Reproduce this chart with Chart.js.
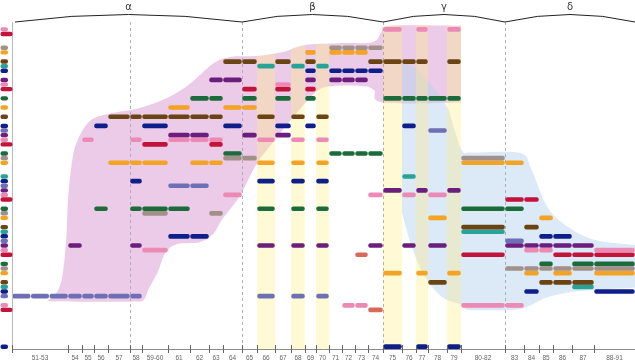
<!DOCTYPE html>
<html>
<head>
<meta charset="utf-8">
<script src="https://cdn.jsdelivr.net/npm/chart.js@4.4.1/dist/chart.umd.min.js"></script>
<style>
  html, body { margin: 0; padding: 0; background: #fff; }
</style>
</head>
<body>
<canvas id="storyChart" width="635" height="364"></canvas>
<script>
// Kolom waktu (tahun) dan lebar relatifnya
const columns = ['51','52','53','54','55','56','57','58','59-60','61','62','63','64','65','66','67','68','69','70','71','72','73','74','75','76','77','78','79','80-82','83','84','85','86','87','88-91'];
const colWidths = [18.7,18.6,18.7,14,12,14,22,12,26,22,19,14,19,15,18,16,14,11,13,13,13,13,15,19,14,12,19,14,44,19,15,14,19,22,41];

// Label sumbu bawah
const tickLabels = ['51-53','54','55','56','57','58','59-60','61','62','63','64','65','66','67','68','69','70','71','72','73','74','75','76','77','78','79','80-82','83','84','85','86','87','88-91'];
const tickSpans = [3,1,1,1,1,1,1,1,1,1,1,1,1,1,1,1,1,1,1,1,1,1,1,1,1,1,1,1,1,1,1,1,1];

// Kelompok di atas
const groupNames = ['α','β','γ','δ'];
const groupFirstCol = ['51','65','75','83'];
const dashedCols = ['58','65','75','83'];
const bandCols = ['66','68','70','75','77','79'];

// Baris dan kolom yang muncul ('*' = warna aksen)
const rowIds = [0,1,4,5,7,8,9,11,12,13,15,17,19,21,22,23,24,25,27,28,29,32,33,34,35,36,37,39,40,41,43,44,45,46,47,48,49,51,52,53,55,56,57,58,60,61,69];
const rowCols = [
  '75 77 79',
  '',
  '71 72 73 74',
  '69 71 72 73',
  '64 65 67 69 74 75 76 77 79',
  '66 68 70',
  '69 71 72 73 74',
  '63 64 69 71 72 73',
  '67',
  '65 67 69',
  '62 63 65 67 69 75 76 77 78 79',
  '61 64 65',
  '57 58 59-60 61 62 63 66 68 70',
  '56 59-60 64 67 69 76',
  '78',
  '61 62 65 67',
  '55 58 61 62 63 66 68 70',
  '59-60 63',
  '64 71 72 73 74',
  '64 65 80-82',
  '57 58 59-60 62 63 66 68 70 80-82 83',
  '76',
  '58 66 68 70',
  '61 62',
  '75 77 79',
  '64 74 76 78',
  '83 84',
  '56 58 59-60 61 66 68 70 80-82 83',
  '59-60 63',
  '78 85',
  '80-82 84',
  '80-82',
  '61 62 85 86',
  '83',
  '54 58 66 68 70 74 76 78 83 84 85 86 87',
  '59-60 84 85 88-91',
  '73* 80-82 86 87 88-91',
  '85 87 88-91',
  '83 84 85 86 87 88-91',
  '75 77 79 84 86 88-91',
  '78 85 86 87',
  '87',
  '84 88-91',
  '51 52 53 54 55 56 57 58 66 68 70',
  '72 73 80-82 83',
  '74*',
  '75 77 79'
];

// Area kelompok [tahun, baris]
const alphaTop = [[52.9,59.1],[53.4,57.2],[53.7,53.5],[53.9,46],[54.0,37],[54.3,28.5],[54.7,24],[55.7,19.8],[57.1,18.3],[58.8,17.1],[61.0,14.8],[62.0,11.8],[63.3,7.4],[64.4,6.0],[65.9,5.8],[67.5,4.9],[69.0,3.4],[71.8,3.0],[74.3,2.8],[74.9,0.6],[75.4,-0.8],[80,-0.8]];
const alphaBottom = [[52.9,59.1],[55,59.2],[58,59.2],[59.1,58.9],[59.5,56.5],[60.2,52.8],[60.8,48.6],[61.4,46.7],[62.5,46.3],[63.3,44.5],[63.9,41.5],[64.85,36.5],[65.4,32.8],[66.05,28.8],[67.0,24],[68.6,17.5],[70.0,13.6],[71.0,12.4],[73.5,12.3],[74.4,13.2],[75.0,15.9],[80,15.9]];
const deltaTop = [[76.0,7.3],[77.0,8.4],[77.8,10.5],[78.6,14.3],[79.1,17.5],[79.6,22.5],[80.1,26.5],[80.8,26.8],[83.8,26.9],[84.5,30.5],[85.6,38.6],[86.8,43.0],[88.1,45.8],[92,46.9]];
const deltaBottom = [[76.0,39.9],[76.7,47.3],[77.75,53.8],[78.74,58.2],[80.07,59.9],[80.6,61.0],[83.6,60.9],[84.5,59.9],[85.64,58.2],[87.36,56.9],[92,56.2]];

const rowPalette = ['#ec8ab5','#c4133a',null,'#1b6b3b','#a29188','#f4a322',null,'#6b4414','#27a398','#0e1f8b','#6d70b5','#6b1e7d'];
const accentRed = '#d96a58';

const colBounds = [];
let acc = 0;
colWidths.forEach(w => { colBounds.push(acc); acc += w; });
colBounds.push(acc);

function colRange(label) {
    const p = label.split('-').map(Number);
    return [p[0], p[p.length - 1] + 1];
}
function yearToUnit(yr) {
    for (let i = 0; i < columns.length; i++) {
        const [a, b] = colRange(columns[i]);
        if (yr <= b || i === columns.length - 1) return colBounds[i] + (yr - a) / (b - a) * colWidths[i];
    }
}

// Dataset per warna
const pillSets = {};
rowIds.forEach((r, i) => {
    rowCols[i].split(' ').filter(Boolean).forEach(tok => {
        const accent = tok.endsWith('*');
        const k = columns.indexOf(tok.replace('*', ''));
        const color = accent ? accentRed : rowPalette[r % 12];
        (pillSets[color] = pillSets[color] || []).push({ x: [colBounds[k] + 0.6, colBounds[k + 1] - 0.6], y: r });
    });
});
const datasets = Object.keys(pillSets).map(color => ({
    data: pillSets[color],
    backgroundColor: color,
    borderRadius: 2,
    borderSkipped: false,
    barThickness: 4,
    grouped: false
}));

function curve(ctx, pts, first) {
    if (first) ctx.moveTo(pts[0][0], pts[0][1]); else ctx.lineTo(pts[0][0], pts[0][1]);
    for (let i = 0; i < pts.length - 1; i++) {
        const p0 = pts[i - 1] || pts[i], p1 = pts[i], p2 = pts[i + 1], p3 = pts[i + 2] || p2;
        const t = 1 / 6;
        ctx.bezierCurveTo(p1[0] + (p2[0] - p0[0]) * t, p1[1] + (p2[1] - p0[1]) * t,
                          p2[0] - (p3[0] - p1[0]) * t, p2[1] - (p3[1] - p1[1]) * t, p2[0], p2[1]);
    }
}

const backdrop = {
    id: 'backdrop',
    beforeDatasetsDraw(chart) {
        const { ctx, chartArea: a, scales: { x, y } } = chart;
        const P = p => [x.getPixelForValue(yearToUnit(p[0])), y.getPixelForValue(p[1])];
        const colX = c => x.getPixelForValue(colBounds[columns.indexOf(c)]);
        const pinkTop = alphaTop.map(P), pinkBot = alphaBottom.map(P);
        const blueTop = deltaTop.map(P), blueBot = deltaBottom.map(P);
        ctx.save();
        ctx.beginPath(); curve(ctx, pinkTop, true); curve(ctx, pinkBot.slice().reverse(), false); ctx.closePath();
        ctx.fillStyle = 'rgba(221,160,214,0.55)'; ctx.fill();
        ctx.beginPath(); curve(ctx, blueTop, true); curve(ctx, blueBot.slice().reverse(), false); ctx.closePath();
        ctx.fillStyle = 'rgba(185,212,240,0.5)'; ctx.fill();

        // pita kuning di bawah batas atas area α
        ctx.save();
        ctx.beginPath(); curve(ctx, pinkTop, true);
        ctx.lineTo(a.right, pinkTop[pinkTop.length - 1][1]); ctx.lineTo(a.right, a.bottom); ctx.lineTo(pinkTop[0][0], a.bottom); ctx.closePath();
        ctx.clip();
        ctx.fillStyle = 'rgba(255,238,130,0.34)';
        bandCols.forEach(c => {
            const k = columns.indexOf(c);
            const x0 = x.getPixelForValue(colBounds[k]), x1 = x.getPixelForValue(colBounds[k + 1]);
            ctx.fillRect(x0, a.top, x1 - x0, a.bottom - a.top);
        });
        ctx.restore();

        ctx.strokeStyle = '#a0a0a0'; ctx.lineWidth = 0.8; ctx.setLineDash([3, 3]);
        dashedCols.forEach(c => {
            const px = Math.round(colX(c)) + 0.5;
            ctx.beginPath(); ctx.moveTo(px, a.top); ctx.lineTo(px, a.bottom); ctx.stroke();
        });
        ctx.restore();
    }
};

const frame = {
    id: 'frame',
    afterDraw(chart) {
        const { ctx, chartArea: a, scales: { x, y } } = chart;
        ctx.save();
        ctx.strokeStyle = '#b8b8b8'; ctx.lineWidth = 1;
        ctx.beginPath(); ctx.moveTo(a.left + 0.5, a.top); ctx.lineTo(a.left + 0.5, a.bottom); ctx.stroke();
        ctx.strokeStyle = '#8c8c8c';
        ctx.beginPath(); ctx.moveTo(a.left, a.bottom + 0.5); ctx.lineTo(a.right, a.bottom + 0.5); ctx.stroke();

        ctx.font = '6.5px "Liberation Sans", Arial, sans-serif';
        ctx.fillStyle = '#666'; ctx.textAlign = 'center'; ctx.textBaseline = 'middle';
        ctx.strokeStyle = '#666';
        let k = 0;
        tickLabels.forEach((lab, i) => {
            const x0 = x.getPixelForValue(colBounds[k]);
            const x1 = x.getPixelForValue(colBounds[k + tickSpans[i]]);
            const tx = Math.round(x0) + 0.5;
            ctx.beginPath(); ctx.moveTo(tx, a.bottom - 4); ctx.lineTo(tx, a.bottom + 4); ctx.stroke();
            ctx.fillText(lab, (x0 + x1) / 2, a.bottom + 9);
            k += tickSpans[i];
        });

        // kurung kelompok
        ctx.strokeStyle = '#222'; ctx.lineWidth = 1;
        ctx.font = '10px "DejaVu Sans", sans-serif'; ctx.fillStyle = '#333';
        groupNames.forEach((g, i) => {
            const x0 = x.getPixelForValue(colBounds[columns.indexOf(groupFirstCol[i])]) + (i === 0 ? 3 : 0);
            const x1 = i < groupNames.length - 1 ? x.getPixelForValue(colBounds[columns.indexOf(groupFirstCol[i + 1])]) : a.right;
            const mid = (x0 + x1) / 2;
            ctx.beginPath(); ctx.moveTo(x0, a.top); ctx.quadraticCurveTo(mid, 7, x1, a.top); ctx.stroke();
            ctx.fillText(g, mid, 7);
        });

        // ikon baris
        rowIds.forEach(r => {
            const yc = y.getPixelForValue(r);
            const w = r % 12 === 1 ? 12 : 7.5;
            ctx.fillStyle = rowPalette[r % 12];
            ctx.beginPath(); ctx.roundRect(0.5, yc - 2.2, w, 4.4, 2); ctx.fill();
        });
        ctx.restore();
    }
};

new Chart(document.getElementById('storyChart'), {
    type: 'bar',
    data: { datasets },
    options: {
        indexAxis: 'y',
        responsive: false,
        animation: false,
        devicePixelRatio: 1,
        layout: { padding: { left: 12, right: 0, top: 22, bottom: 15 } },
        scales: {
            x: { type: 'linear', min: 0, max: colBounds[colBounds.length - 1], display: false, offset: false },
            y: { type: 'linear', min: -1.6, max: 69.5, reverse: true, display: false, offset: false }
        },
        plugins: { legend: { display: false }, tooltip: { enabled: false } }
    },
    plugins: [backdrop, frame]
});
</script>
</body>
</html>
